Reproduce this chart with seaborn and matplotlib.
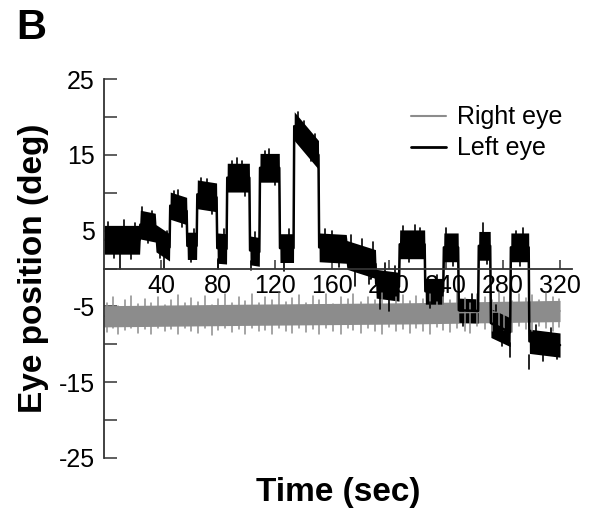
import numpy as np
import pandas as pd
import matplotlib
matplotlib.use("Agg")
import matplotlib.pyplot as plt
import seaborn as sns

# left eye fixations: start / end (sec), centre at start / end (deg), half width of noise band (deg)
left_t0 = [0, 25.5, 36.5, 46.5, 58.5, 65.5, 79.5, 86.5, 102.5, 109.5, 123.5, 133.5,
           151, 170.5, 191, 207.5, 225.5, 238.5, 249, 263, 271.5, 285.5, 298.5]
left_t1 = [25, 36, 46, 58, 65, 79, 86, 102, 109, 123, 133, 150.5,
           170, 190.5, 207, 225, 238, 248.5, 262.5, 271, 285, 298, 320]
left_c0 = [3.8, 5.8, 4.0, 8.3, 3.0, 9.8, 2.7, 12.0, 2.4, 13.3, 2.7, 18.8,
           2.8, 1.8, -2.0, 3.2, -3.0, 2.8, -5.5, 3.0, -7.2, 2.8, -9.6]
left_c1 = [3.8, 5.4, 2.8, 7.6, 3.0, 9.4, 2.6, 12.0, 2.2, 13.3, 2.7, 15.0,
           2.6, 0.6, -2.4, 3.2, -3.0, 2.8, -5.6, 3.0, -8.4, 2.8, -10.1]
left_half = [1.9, 1.9, 1.8, 1.8, 1.8, 1.9, 2.0, 1.9, 1.9, 1.9, 1.9, 1.9,
             1.9, 1.9, 1.9, 1.9, 1.7, 1.9, 1.6, 1.9, 1.9, 1.9, 1.6]

# noise excursions on the left eye trace: time, one end, other end
left_spk_t = [3, 7, 11, 14, 19, 22, 27, 31, 34, 39, 42, 44, 49, 52, 55, 61, 63,
              68, 72, 76, 80, 84, 90, 93, 97, 99, 103, 106, 113, 116, 120, 126, 130,
              136, 140, 145, 148, 155, 160, 165, 173, 176, 181, 186, 189,
              194, 197, 200, 204, 210, 214, 218, 222, 229, 234, 240, 245,
              252, 258, 266, 269, 275, 279, 285, 289, 292, 294,
              298.5, 303, 308, 314, 318]
left_spk_a = [5.2, 2.4, 2.4, 5.2, 2.4, 5.2, 7.2, 4.4, 6.8, 2.6, 1.5, 4.2, 9.6, 9.5, 6.4, 1.6, 4.4,
              11.2, 11.0, 8.0, 1.2, 4.2, 13.5, 13.5, 13.5, 10.5, 1.0, 3.8, 14.8, 14.8, 11.8, 1.3, 4.1,
              20.0, 18.9, 15.2, 17.2, 4.3, 4.2, 1.0, 3.4, -0.2, 2.8, -0.6, 2.2,
              -3.6, -0.4, -4.0, -0.8, 4.7, 1.7, 4.7, 4.7, -4.4, -1.6, 4.3, 1.3,
              -6.8, -4.2, 4.5, 1.5, -5.6, -9.4, -9.8, 4.3, 1.3, 4.3,
              -11.4, -8.2, -11.4, -8.5, -11.4]
left_spk_b = [6.2, 1.4, 0.0, 6.4, 1.2, 6.0, 8.1, 3.4, 7.6, 1.4, 0.1, 5.0, 10.2, 10.4, 5.5, 0.9, 5.2,
              11.9, 11.8, 7.2, 0.0, 5.2, 14.2, 14.6, 14.2, 9.6, -0.2, 4.8, 15.5, 15.8, 11.0, -0.3, 5.2,
              20.6, 19.5, 14.2, 17.8, 5.2, 4.9, 0.2, 4.4, -2.3, 3.9, -2.0, 3.5,
              -5.4, 0.8, -5.6, 0.4, 5.6, 0.9, 5.8, 5.3, -5.2, -0.8, 5.3, 0.4,
              -7.6, -3.4, 6.0, 0.6, -4.8, -10.2, -11.7, 5.0, 0.4, 5.3,
              -13.3, -7.4, -12.2, -7.8, -12.0]

# right eye: one long noisy fixation
right_t0 = [0, 100, 220]
right_t1 = [100, 220, 320]
right_c0 = [-6.3, -6.1, -5.9]
right_c1 = [-6.1, -5.9, -5.6]
right_half = [1.4, 1.4, 1.4]

right_spk_t = [2, 6, 10, 15, 19, 24, 29, 33, 38, 43,
               47, 52, 57, 61, 66, 71, 76, 80, 85, 90,
               95, 99, 104, 109, 113, 118, 123, 128, 132, 137,
               142, 147, 151, 156, 161, 166, 171, 175, 180, 185,
               190, 195, 200, 205, 210, 215, 219, 224, 229, 234,
               238, 243, 248, 253, 257, 262, 267, 272, 277, 281,
               286, 291, 296, 300, 305, 310, 315, 319]
right_spk_lo = [-8.4, -7.9, -8.6, -8.1, -7.8, -8.5, -8.0, -8.7, -7.9, -8.3,
                -8.0, -8.6, -7.8, -8.2, -8.5, -7.9, -8.8, -8.1, -7.9, -8.4,
                -8.0, -8.6, -7.8, -8.3, -8.1, -8.7, -7.9, -8.2, -8.5, -7.8,
                -8.4, -8.0, -8.6, -7.9, -8.3, -8.7, -7.8, -8.1, -8.5, -7.9,
                -8.2, -8.6, -7.7, -8.3, -8.0, -8.5, -7.8, -8.2, -8.6, -7.7,
                -8.1, -8.4, -7.8, -8.2, -8.5, -7.6, -8.0, -8.3, -7.7, -8.1,
                -8.4, -7.6, -8.0, -8.3, -7.6, -7.9, -8.2, -7.7]
right_spk_hi = [-4.6, -3.8, -4.9, -4.2, -3.6, -4.7, -4.0, -4.5, -3.7, -4.8,
                -4.1, -3.5, -4.6, -3.9, -4.4, -3.6, -4.8, -4.0, -3.4, -4.5,
                -3.8, -4.3, -3.3, -4.6, -3.7, -4.1, -3.2, -4.4, -3.9, -3.5,
                -4.5, -3.6, -4.2, -3.3, -4.7, -3.8, -4.0, -3.4, -4.4, -3.7,
                -4.1, -3.2, -4.5, -3.8, -3.5, -4.3, -3.6, -4.0, -3.3, -4.4,
                -3.7, -4.1, -3.2, -3.9, -4.5, -3.4, -3.8, -4.2, -3.1, -3.7,
                -4.3, -3.3, -3.9, -3.5, -4.2, -3.2, -3.8, -4.0]


def band_frame(t0, t1, c0, c1, half):
    rows = []
    for a, b, ca, cb, h in zip(t0, t1, c0, c1, half):
        for t, c in ((a, ca), (b, cb)):
            rows.append((t, c - h))
            rows.append((t, c + h))
    return pd.DataFrame(rows, columns=["t", "pos"])


def spike_frame(st, sa, sb):
    rows = []
    for i, (t, a, b) in enumerate(zip(st, sa, sb)):
        rows.append((i, t, a))
        rows.append((i, t, b))
    return pd.DataFrame(rows, columns=["sid", "t", "pos"])


right_df = band_frame(right_t0, right_t1, right_c0, right_c1, right_half)
left_df = band_frame(left_t0, left_t1, left_c0, left_c1, left_half)
right_spk = spike_frame(right_spk_t, right_spk_lo, right_spk_hi)
left_spk = spike_frame(left_spk_t, left_spk_a, left_spk_b)

sns.set_style("ticks")
plt.rcParams["font.family"] = ["Liberation Sans", "DejaVu Sans"]
plt.rcParams["axes.unicode_minus"] = False
plt.rcParams["text.color"] = "black"
plt.rcParams["axes.labelcolor"] = "black"

fig = plt.figure(figsize=(6.01, 5.14), dpi=100)
ax = fig.add_axes([0.173, 0.109, 0.779, 0.737])

grey = "#8c8c8c"
sns.lineplot(data=right_df, x="t", y="pos", color=grey, estimator="mean",
             errorbar=("pi", 100), err_kws={"alpha": 1, "linewidth": 0},
             linewidth=1.2, ax=ax, label="Right eye")
sns.lineplot(data=right_spk, x="t", y="pos", units="sid", estimator=None, sort=False,
             color=grey, linewidth=1.1, ax=ax, legend=False)
sns.lineplot(data=left_df, x="t", y="pos", color="black", estimator="mean",
             errorbar=("pi", 100), err_kws={"alpha": 1, "linewidth": 0},
             linewidth=1.8, ax=ax, label="Left eye")
sns.lineplot(data=left_spk, x="t", y="pos", units="sid", estimator=None, sort=False,
             color="black", linewidth=1.2, ax=ax, legend=False)

ax.set_xlim(0, 328.5)
ax.set_ylim(-25, 25)
for s in ("top", "right"):
    ax.spines[s].set_visible(False)
ax.spines["bottom"].set_position(("data", 0))
for s in ("left", "bottom"):
    ax.spines[s].set_color("#333333")
    ax.spines[s].set_linewidth(1.3)

ax.set_xticks([40, 80, 120, 160, 200, 240, 280, 320])
ax.set_yticks([-25, -15, -5, 5, 15, 25])
ax.set_yticks([-20, -10, 0, 10, 20], minor=True)
ax.tick_params(axis="x", direction="in", length=6.5, width=1.1, color="#333333",
               labelcolor="black", labelsize=18, pad=4)
ax.tick_params(axis="y", which="both", direction="in", length=9, width=1.1,
               color="#333333", labelcolor="black", labelsize=18, pad=6.5)

ax.set_xlabel("Time (sec)", fontsize=24, fontweight="bold")
ax.xaxis.set_label_coords(0.5, -0.051)
ax.set_ylabel("Eye position (deg)", fontsize=24, fontweight="bold")
ax.yaxis.set_label_coords(-0.117, 0.5)

leg = ax.legend(loc="upper left", bbox_to_anchor=(0.684, 0.795), bbox_transform=fig.transFigure,
                frameon=False, fontsize=18, handlelength=1.4, handletextpad=0.45,
                labelspacing=0.28, borderpad=0, borderaxespad=0)
leg.get_lines()[0].set_linewidth(1.5)
leg.get_lines()[1].set_linewidth(2.0)

fig.text(0.027, 0.985, "B", fontsize=30, fontweight="bold", va="top", ha="left")

fig.savefig("out.png", dpi=100)
